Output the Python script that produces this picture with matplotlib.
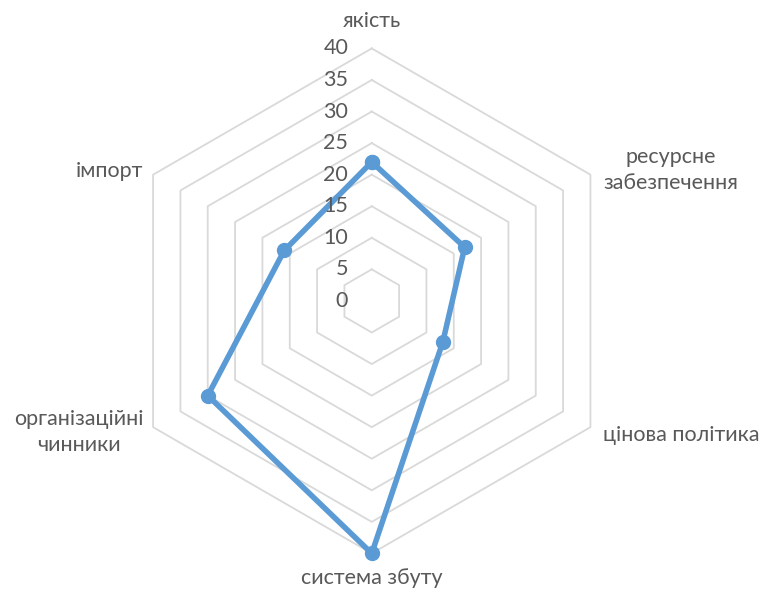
import numpy as np
import matplotlib.pyplot as plt

plt.rcParams['font.family'] = ['Lato', 'DejaVu Sans']

categories = ['якість', 'ресурсне\nзабезпечення', 'цінова політика',
              'система збуту', 'організаційні\nчинники', 'імпорт']
values = [22, 17, 13, 40, 30, 16]
ticks = [0, 5, 10, 15, 20, 25, 30, 35, 40]

text_color = '#595959'
grid_color = '#d9d9d9'
line_color = '#5b9bd5'

n = len(categories)
angles = np.linspace(0, 2 * np.pi, n, endpoint=False)
closed = np.append(angles, angles[0])

fig = plt.figure(figsize=(7.6, 5.89), dpi=100)
ax = fig.add_axes([0.1569, 0.0604, 0.6645, 0.8574], projection='polar')
ax.set_theta_zero_location('N')
ax.set_theta_direction(-1)
ax.set_ylim(0, 40)
ax.grid(False)
ax.spines['polar'].set_visible(False)
ax.set_xticks([])
ax.set_yticks([])
ax.patch.set_alpha(0)

# hexagonal rings
for t in ticks[1:]:
    ax.plot(closed, [t] * (n + 1), color=grid_color, lw=1.3, zorder=1,
            clip_on=False)

# series
ax.plot(closed, values + values[:1], color=line_color, lw=4,
        marker='o', markersize=10, zorder=3, solid_joinstyle='round',
        clip_on=False)

# radial tick labels left of the vertical axis
for t in ticks:
    ax.annotate(str(t), xy=(0, t), xytext=(-17, 0), textcoords='offset points',
                ha='right', va='center', fontsize=15.5, color=text_color)

# category labels (pixel positions, top-left origin)
label_pos = [(372, 21), (671, 170), (681, 435), (372, 578), (79, 432), (109, 171)]
W, H = 760, 589
for lab, (x, y) in zip(categories, label_pos):
    fig.text(x / W, 1 - y / H, lab, ha='center', va='center', fontsize=15.5,
             color=text_color, linespacing=1.35)

fig.savefig('out.png', dpi=100)
